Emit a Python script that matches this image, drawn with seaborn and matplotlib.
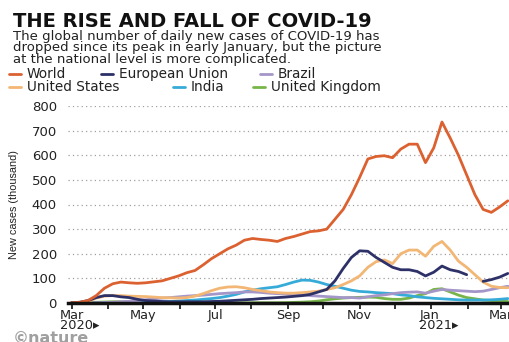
import pandas as pd
import numpy as np
import seaborn as sns
import matplotlib.pyplot as plt
import matplotlib.transforms as mtransforms
from matplotlib.lines import Line2D

# weekly 7-day averages (thousand new cases), from 1 Mar 2020
dates = pd.date_range("2020-03-01", periods=54, freq="7D")

world = [1, 3, 10, 30, 60, 78, 85, 82, 80, 82, 86, 90, 100, 110, 123, 132, 155, 180,
         200, 220, 235, 255, 262, 258, 255, 250, 262, 270, 280, 290, 293, 300, 340, 380,
         440, 510, 585, 595, 598, 590, 625, 645, 645, 570, 630, 735, 670, 600, 520, 440,
         380, 368, 390, 415]
eu = [1, 3, 10, 22, 30, 30, 25, 22, 15, 10, 8, 6, 5, 5, 5, 5, 5, 6,
      7, 9, 11, 13, 15, 18, 20, 22, 24, 27, 30, 35, 45, 55, 90, 140,
      185, 212, 210, 185, 165, 145, 135, 135, 128, 110, 125, 150, 135, 128, 115, np.nan,
      88, 95, 105, 120]
brazil = [0, 0, 0, 1, 2, 3, 5, 7, 10, 13, 17, 20, 22, 25, 28, 30, 32, 35,
          38, 40, 42, 45, 45, 43, 40, 38, 36, 34, 32, 30, 28, 26, 24, 22,
          22, 20, 25, 30, 33, 38, 42, 44, 45, 40, 48, 55, 52, 50, 48, 46,
          48, 55, 62, 68]
usa = [0, 1, 5, 20, 28, 30, 30, 28, 27, 26, 24, 22, 21, 20, 22, 28, 38, 50,
       60, 65, 66, 62, 55, 50, 45, 42, 40, 40, 42, 45, 48, 55, 62, 75,
       90, 110, 145, 168, 175, 160, 200, 215, 215, 190, 230, 250, 215, 170, 145, 115,
       85, 68, 63, 62]
india = [0, 0, 0, 0, 1, 1, 1, 2, 2, 3, 4, 5, 6, 8, 10, 12, 15, 18,
         22, 28, 35, 45, 52, 58, 62, 66, 75, 85, 93, 92, 85, 75, 68, 60,
         52, 47, 45, 42, 40, 38, 33, 30, 25, 22, 19, 17, 15, 13, 12, 12,
         12, 13, 15, 18]
uk = [0, 0, 1, 3, 4, 5, 5, 5, 4, 4, 3, 3, 2, 1.5, 1.2, 1, 1, 0.7,
      0.7, 0.7, 0.8, 0.8, 0.9, 1, 1.1, 1.2, 1.5, 2.5, 3.5, 5, 8, 13, 17, 20,
      22, 23, 24, 23, 18, 15, 15, 20, 30, 38, 55, 58, 45, 32, 22, 17,
      12, 10, 7, 6]

colors = {"World": "#dc6130", "European Union": "#2d3168", "Brazil": "#a596c9",
          "United States": "#f2b675", "India": "#37abd8", "United Kingdom": "#78b548"}
series = {"World": world, "European Union": eu, "Brazil": brazil,
          "United States": usa, "India": india, "United Kingdom": uk}

# long format; a gap (NaN) starts a new line segment
rows = []
for name, vals in series.items():
    seg = 0
    for d, v in zip(dates, vals):
        if np.isnan(v):
            seg += 1
            continue
        rows.append({"date": d, "cases": v, "series": name, "seg": seg})
df = pd.DataFrame(rows)

sns.set_theme(style="white")
plt.rcParams['font.family'] = ['DejaVu Sans']

fig = plt.figure(figsize=(5.09, 3.42), dpi=100)
ax = fig.add_axes([68 / 509, 1 - 303 / 342, 1 - 68 / 509, (303 - 106) / 342])

draw_order = ["United Kingdom", "India", "Brazil", "United States", "European Union", "World"]
sns.lineplot(data=df, x="date", y="cases", hue="series", hue_order=draw_order,
             units="seg", estimator=None, palette=colors, linewidth=2,
             legend=False, ax=ax)

ax.set_xlim(pd.Timestamp("2020-02-27"), pd.Timestamp("2021-03-08"))
ax.set_ylim(0, 800)
ax.set_yticks(range(0, 801, 100))
ax.yaxis.grid(True, linestyle=(0, (1, 2.5)), color="#a0a0a0", linewidth=0.9)
ax.xaxis.grid(False)
for s in ["top", "right", "left"]:
    ax.spines[s].set_visible(False)
ax.spines["bottom"].set_color("#111111")
ax.spines["bottom"].set_linewidth(2.5)
ax.spines["bottom"].set_zorder(5)

months = pd.date_range("2020-03-01", "2021-03-01", freq="MS")
ax.set_xticks(months)
labels = []
for m in months:
    if m.month % 2 == 0:
        labels.append("")
    elif m.month == 3 and m.year == 2020:
        labels.append("Mar\n2020\u25b8")
    elif m.month == 1:
        labels.append("Jan\n2021\u25b8")
    else:
        labels.append(m.strftime("%b"))
ax.set_xticklabels(labels)
ax.tick_params(axis="x", bottom=True, length=4, width=1.2, color="#111111",
               labelsize=9.3, pad=0, labelcolor="#222222")
ax.tick_params(axis="y", left=False, labelsize=9.5, pad=2, labelcolor="#222222")
shift = mtransforms.ScaledTranslation(-12 / 100, 0, fig.dpi_scale_trans)
for t in ax.get_xticklabels():
    if "\n" in t.get_text():
        t.set_ha("left")
        t.set_multialignment("left")
        t.set_transform(t.get_transform() + shift)
        t.set_linespacing(0.75)

ax.set_xlabel("")
ax.set_ylabel("New cases (thousand)", fontsize=7.8, color="#222222",
              family=["Liberation Sans", "DejaVu Sans"])
ax.yaxis.set_label_coords(-49 / 441, 0.5)

# title block
fig.text(13 / 509, 1 - 12 / 342, "THE RISE AND FALL OF COVID-19", fontsize=14,
         fontweight="heavy", color="#111111", va="top", ha="left")
fig.text(13 / 509, 1 - 30 / 342,
         "The global number of daily new cases of COVID-19 has\n"
         "dropped since its peak in early January, but the picture\n"
         "at the national level is more complicated.",
         fontsize=9.5, color="#222222", va="top", ha="left", linespacing=0.85)

# legend, two rows laid out as in the original
legend_pos = [("World", 9, 74), ("European Union", 101, 74), ("Brazil", 260, 74),
              ("United States", 9, 87), ("India", 173, 87), ("United Kingdom", 253, 87)]
for name, px, py in legend_pos:
    yy = 1 - py / 342
    fig.add_artist(Line2D([px / 509, (px + 12) / 509], [yy, yy], transform=fig.transFigure,
                          color=colors[name], linewidth=2))
    fig.text((px + 18) / 509, yy, name, fontsize=9.8, color="#222222", va="center", ha="left")

fig.text(13 / 509, 1 - 343 / 342, "\u00a9nature", fontsize=11.5, fontweight="bold",
         color="#a0a0a0", va="baseline", ha="left")

fig.savefig("out.png", dpi=100)
